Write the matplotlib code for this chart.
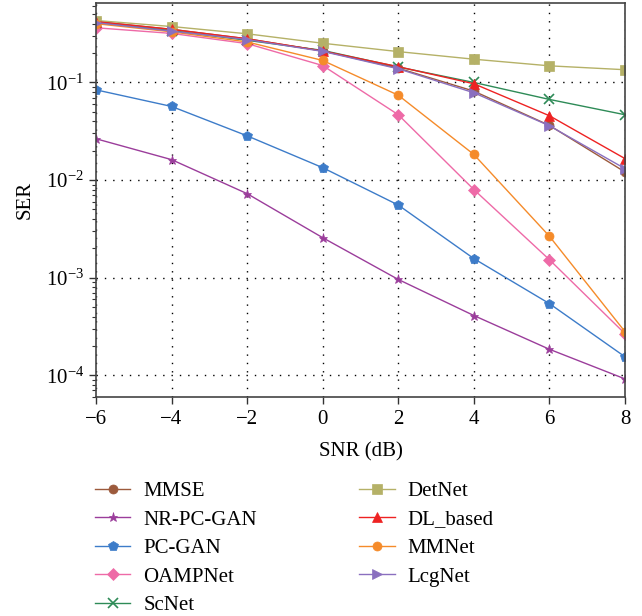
"""SER versus SNR for the MIMO detectors"""
import matplotlib
matplotlib.use("Agg")
import matplotlib.pyplot as plt
from matplotlib.ticker import LogLocator, NullFormatter

plt.rcParams['font.family'] = ['Liberation Serif', 'DejaVu Serif']
plt.rcParams['mathtext.fontset'] = 'stix'

snr = [-6, -4, -2, 0, 2, 4, 6, 8]

mmse = [0.42, 0.35, 0.28, 0.21, 0.140, 0.0815, 0.0363, 0.0121]
nr_pc_gan = [0.0265, 0.0162, 0.00726, 0.00257, 0.00096, 0.00041, 0.000185, 0.000092]
pc_gan = [0.084, 0.0568, 0.0284, 0.0134, 0.00555, 0.00157, 0.000543, 0.000155]
oampnet = [0.363, 0.318, 0.25, 0.149, 0.0467, 0.0080, 0.00153, 0.000267]
scnet = [0.41, 0.34, 0.27, 0.213, 0.144, 0.100, 0.067, 0.0467]
detnet = [0.431, 0.374, 0.315, 0.252, 0.207, 0.173, 0.148, 0.135]
dl_based = [0.42, 0.35, 0.28, 0.21, 0.145, 0.097, 0.0456, 0.0166]
mmnet = [0.40, 0.33, 0.26, 0.168, 0.074, 0.0183, 0.00266, 0.00028]
lcgnet = [0.41, 0.335, 0.275, 0.208, 0.138, 0.0784, 0.036, 0.0131]

series = [
    ("MMSE", mmse, "#9c5a3c", "o", 6.5),
    ("NR-PC-GAN", nr_pc_gan, "#9b3d9b", "*", 6.5),
    ("PC-GAN", pc_gan, "#3d7cc9", "p", 7),
    ("OAMPNet", oampnet, "#ee6aa7", "D", 6.5),
    ("ScNet", scnet, "#2e8b57", "x", 7),
    ("DetNet", detnet, "#b5b167", "s", 7),
    ("DL_based", dl_based, "#ee2222", "^", 7),
    ("MMNet", mmnet, "#f58b2a", "o", 6.5),
    ("LcgNet", lcgnet, "#8a6fbf", ">", 7),
]

fig = plt.figure(figsize=(6.42, 6.16), dpi=100)
ax = fig.add_axes([0.1495, 0.3555, 0.824, 0.6395])

for name, vals, color, marker, ms in series:
    mew = 1.2 if marker == "x" else 0.5
    ax.plot(snr, vals, color=color, marker=marker, markersize=ms,
            linewidth=1.0, markeredgewidth=mew, label=name)

ax.set_yscale('log')
ax.set_xlim(-6, 8)
ax.set_ylim(6e-5, 0.65)
ax.set_xticks(snr)
ax.set_xticklabels(['\u22126', '\u22124', '\u22122', '0', '2', '4', '6', '8'])
ax.yaxis.set_major_locator(LogLocator(base=10, numticks=10))
ax.yaxis.set_minor_locator(LogLocator(base=10, subs=range(2, 10), numticks=20))
ax.yaxis.set_minor_formatter(NullFormatter())
ax.grid(True, which='major', color='black', linestyle=(0, (1, 5)), linewidth=1.0)

ax.tick_params(axis='both', which='major', labelsize=15, direction='out',
               length=5, width=1, color='#333333')
ax.tick_params(axis='x', which='major', pad=4)
ax.tick_params(axis='y', which='minor', direction='out', length=3, width=0.8,
               color='#333333')
for spine in ax.spines.values():
    spine.set_color('#444444')
    spine.set_linewidth(1.2)

ax.set_xlabel("SNR (dB)", fontsize=15, labelpad=10)
ax.set_ylabel("SER", fontsize=15, labelpad=8)

fig.legend(loc='upper left', bbox_to_anchor=(0.135, 0.232), ncol=2,
           frameon=False, fontsize=15, handlelength=1.7, columnspacing=4.9,
           labelspacing=0.43, handletextpad=0.63, borderaxespad=0)

plt.savefig('out.png', dpi=100)
